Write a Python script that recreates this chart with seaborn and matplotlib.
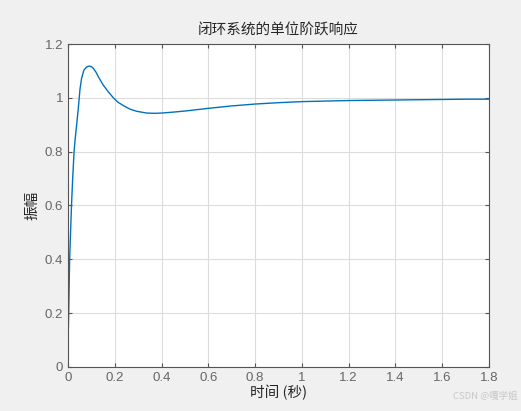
import matplotlib
matplotlib.use("Agg")
import matplotlib.pyplot as plt
import seaborn as sns

t = [0, 0.0005, 0.003, 0.007, 0.011, 0.015, 0.02, 0.026, 0.031, 0.037, 0.044,
     0.051, 0.058, 0.068, 0.080, 0.091, 0.100, 0.108, 0.12, 0.13, 0.151,
     0.172, 0.194, 0.215, 0.237, 0.265, 0.294, 0.336, 0.37, 0.4, 0.45, 0.5,
     0.55, 0.6, 0.7, 0.8, 0.9, 1.0, 1.1, 1.2, 1.3, 1.4, 1.5, 1.6, 1.7, 1.8]
amp = [0, 0.1, 0.2, 0.4, 0.5, 0.6, 0.7, 0.8, 0.85, 0.9, 0.96,
       1.03, 1.072, 1.103, 1.115, 1.118, 1.116, 1.11, 1.095, 1.078, 1.047,
       1.023, 1.0, 0.983, 0.971, 0.958, 0.95, 0.9435, 0.9425, 0.9435, 0.947,
       0.951, 0.956, 0.961, 0.970, 0.977, 0.982, 0.986, 0.988, 0.99, 0.991,
       0.992, 0.993, 0.994, 0.995, 0.995]
xticks = [0, 0.2, 0.4, 0.6, 0.8, 1, 1.2, 1.4, 1.6, 1.8]
xlabels = ["0", "0.2", "0.4", "0.6", "0.8", "1", "1.2", "1.4", "1.6", "1.8"]
yticks = [0, 0.2, 0.4, 0.6, 0.8, 1, 1.2]
ylabels = ["0", "0.2", "0.4", "0.6", "0.8", "1", "1.2"]

sns.set_style("whitegrid")
plt.rcParams['font.family'] = ['Liberation Sans', 'Noto Sans CJK SC', 'DejaVu Sans']

fig = plt.figure(figsize=(5.21, 4.11), dpi=100, facecolor="#f0f0f0")
ax = fig.add_axes([0.1305, 0.1071, 0.8081, 0.7858])
ax.set_facecolor("white")

sns.lineplot(x=t, y=amp, ax=ax, color="#0072bd", linewidth=1.0, sort=False)

ax.set_xlim(0, 1.8)
ax.set_ylim(0, 1.2)
ax.set_xticks(xticks)
ax.set_xticklabels(xlabels)
ax.set_yticks(yticks)
ax.set_yticklabels(ylabels)
ax.grid(True, color="#dcdcdc", linewidth=0.8)
ax.tick_params(direction="in", length=3, width=0.8, colors="#555555",
               labelsize=9.5, top=True, right=True, bottom=True, left=True,
               labelcolor="#666666")
for s in ax.spines.values():
    s.set_color("#555555")
    s.set_linewidth(0.8)
    s.set_visible(True)

ax.set_title("闭环系统的单位阶跃响应", fontsize=10.5, color="#262626",
             family=['Noto Sans CJK SC'], pad=7)
ax.set_xlabel("时间 (秒)", fontsize=10.5, color="#262626",
              family=['Noto Sans CJK SC', 'DejaVu Sans'], labelpad=1)
ax.set_ylabel("振幅", fontsize=10.5, color="#262626",
              family=['Noto Sans CJK SC'], labelpad=4)

fig.text(0.993, 0.036, "CSDN @嘎学姐", ha="right", va="center", fontsize=6.8,
         color="#c8c8c8", family=['Noto Sans CJK SC', 'DejaVu Sans'])

fig.savefig("out.png", dpi=100, facecolor=fig.get_facecolor())
